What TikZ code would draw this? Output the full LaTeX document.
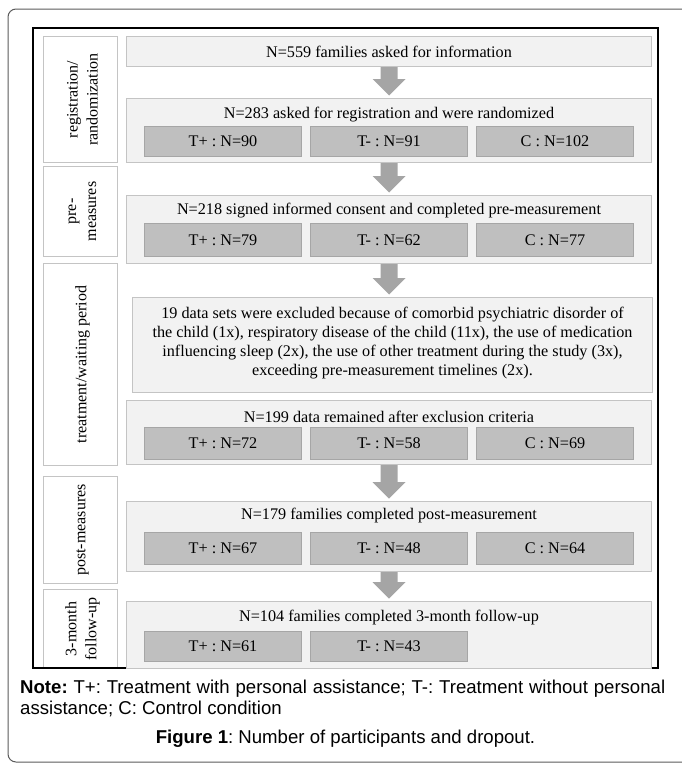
\documentclass[tikz,border=0pt]{standalone}
\usepackage{fontspec}
\setmainfont{Liberation Serif}
\newfontfamily\arialf{Liberation Sans}
\usetikzlibrary{calc}
\definecolor{boxfill}{HTML}{F2F2F2}
\definecolor{boxline}{HTML}{C4C4C4}
\definecolor{subfill}{HTML}{BFBFBF}
\definecolor{subline}{HTML}{A6A6A6}
\definecolor{arrowc}{HTML}{A5A5A5}
\definecolor{framec}{HTML}{5A5A5A}
\newcommand\blockarrow[2]{\fill[arrowc] let \p1=(#1.south), \p2=(#2.north) in
  (\x1-8.5pt,\y1) -- (\x1+8.5pt,\y1) -- (\x1+8.5pt,\y2+19pt) -- (\x1+16.5pt,\y2+19pt)
  -- (\x1,\y2+2.5pt) -- (\x1-16.5pt,\y2+19pt) -- (\x1-8.5pt,\y2+19pt) -- cycle;}
\begin{document}
\frenchspacing
\begin{tikzpicture}[x=1pt,y=-1pt,
  txt/.style={font=\fontsize{16.2}{19}\selectfont, inner sep=0pt},
  mainbox/.style={draw=boxline, fill=boxfill, line width=1pt, inner sep=0pt, anchor=north west},
  subbox/.style={draw=subline, fill=subfill, line width=1pt, inner sep=0pt, anchor=north west,
    minimum width=157pt, font=\fontsize{16.2}{19}\selectfont},
  labbox/.style={draw=boxline, fill=white, line width=1pt, inner sep=0pt, anchor=north west, minimum width=74pt},
  labtxt/.style={rotate=90, align=center, font=\fontsize{16}{20}\selectfont, inner sep=0pt}]
\useasboundingbox (0,0) rectangle (681,763);
% outer rounded frame
\draw[framec, line width=1pt, rounded corners=8pt] (8,9) rectangle (690,762);
% phase label boxes
\node[labbox, minimum height=126pt] (L1) at (43,36) {};
\node[labbox, minimum height=90pt] (L2) at (43,166) {};
\node[labbox, minimum height=202pt] (L3) at (43,263) {};
\node[labbox, minimum height=107pt] (L4) at (43,476) {};
\node[labbox, minimum height=79pt] (L5) at (43,589) {};
\node[labtxt] at ($(L1.center)+(2,0)$) {registration/\\randomization};
\node[labtxt] at ($(L2.center)+(2,0)$) {pre-\\measures};
\node[labtxt] at ($(L3.center)+(2,0)$) {treatment/waiting period};
\node[labtxt] at ($(L4.center)+(2,0)$) {post-measures};
\node[labtxt] at ($(L5.center)+(2,0)$) {3-month\\follow-up};
% inner frame
\draw[black, line width=1.2pt] (33,28) rectangle (658,668);
% main boxes
\node[mainbox, minimum width=525pt, minimum height=30pt] (b1) at (126,36) {};
\node[txt] at (b1.center) {N=559 families asked for information};
\node[mainbox, minimum width=525pt, minimum height=64pt] (b2) at (126,98) {};
\node[txt] at ($(b2.north)+(0,17)$) {N=283 asked for registration and were randomized};
\node[subbox, minimum height=30pt] (b2a) at (144,126) {T+ : N=90};
\node[subbox, minimum height=30pt] (b2b) at (310,126) {T- : N=91};
\node[subbox, minimum height=30pt] (b2c) at (476,126) {C : N=102};
\node[mainbox, minimum width=525pt, minimum height=68pt] (b3) at (126,195) {};
\node[txt] at ($(b3.north)+(0,16)$) {N=218 signed informed consent and completed pre-measurement};
\node[subbox, minimum height=33pt] (b3a) at (144,223) {T+ : N=79};
\node[subbox, minimum height=33pt] (b3b) at (310,223) {T- : N=62};
\node[subbox, minimum height=33pt] (b3c) at (476,223) {C : N=77};
\node[mainbox, minimum width=520pt, minimum height=95pt] (ex) at (132,297) {};
\node[txt, align=center] at ($(ex.center)+(0,-2)$) {19 data sets were excluded because of comorbid psychiatric disorder of\\the child (1x), respiratory disease of the child (11x), the use of medication\\influencing sleep (2x), the use of other treatment during the study (3x),\\exceeding pre-measurement timelines (2x).};
\node[mainbox, minimum width=525pt, minimum height=64pt] (b4) at (126,400) {};
\node[txt] at ($(b4.north)+(0,17)$) {N=199 data remained after exclusion criteria};
\node[subbox, minimum height=32pt] (b4a) at (144,427) {T+ : N=72};
\node[subbox, minimum height=32pt] (b4b) at (310,427) {T- : N=58};
\node[subbox, minimum height=32pt] (b4c) at (476,427) {C : N=69};
\node[mainbox, minimum width=525pt, minimum height=70pt] (b5) at (126,501) {};
\node[txt] at ($(b5.north)+(0,15)$) {N=179 families completed post-measurement};
\node[subbox, minimum height=32pt] (b5a) at (144,532) {T+ : N=67};
\node[subbox, minimum height=32pt] (b5b) at (310,532) {T- : N=48};
\node[subbox, minimum height=32pt] (b5c) at (476,532) {C : N=64};
\node[mainbox, minimum width=525pt, minimum height=67pt] (b6) at (126,601) {};
\node[txt] at ($(b6.north)+(0,17)$) {N=104 families completed 3-month follow-up};
\node[subbox, minimum height=30pt] (b6a) at (144,631) {T+ : N=61};
\node[subbox, minimum height=30pt] (b6b) at (310,631) {T- : N=43};
% arrows
\blockarrow{b1}{b2}
\blockarrow{b2}{b3}
\blockarrow{b3}{ex}
\blockarrow{b4}{b5}
\blockarrow{b5}{b6}
% note and caption
\node[anchor=north west, inner sep=0pt, text width=645pt, align=justify,
  font=\arialf\fontsize{18.6}{21}\selectfont] (note) at (20,680)
  {\textbf{Note:} T+: Treatment with personal assistance; T-: Treatment without personal\linebreak assistance; C: Control condition};
\node[anchor=base, inner sep=0pt, font=\arialf\fontsize{18.6}{21}\selectfont] (cap) at (345.5,743.5)
  {\textbf{Figure 1}: Number of participants and dropout.};
\end{tikzpicture}
\end{document}
